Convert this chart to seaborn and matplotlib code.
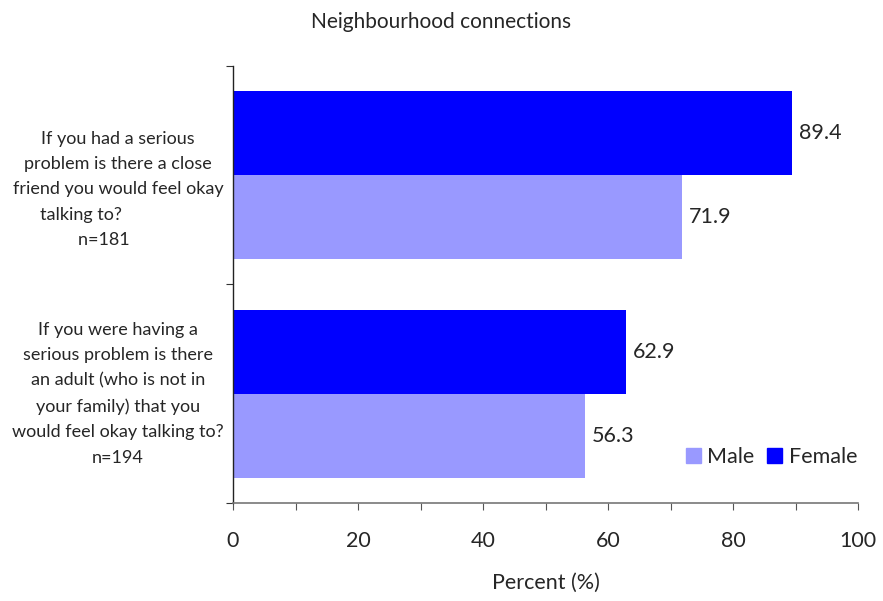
import pandas as pd
import numpy as np
import matplotlib.pyplot as plt
import seaborn as sns
from matplotlib.patches import Patch

# data
questions = [
    "If you had a serious\nproblem is there a close\nfriend you would feel okay\ntalking to?" + " " * 16 + "\nn=181" + " " * 6,
    "If you were having a\nserious problem is there\nan adult (who is not in\nyour family) that you\nwould feel okay talking to?\nn=194",
]
female = [89.4, 62.9]
male = [71.9, 56.3]
genders = ["Female", "Male"]
colors = {"Female": "#0000FF", "Male": "#9999FF"}

df = pd.DataFrame({
    "question": questions * 2,
    "gender": ["Female"] * 2 + ["Male"] * 2,
    "percent": female + male,
})

sns.set_style("white")
plt.rcParams['font.family'] = ['Lato', 'DejaVu Sans']

fig = plt.figure(figsize=(8.83, 6.01), dpi=100)
ax = fig.add_axes([0.2639, 0.1631, 0.7078, 0.7271])

sns.barplot(data=df, y="question", x="percent", hue="gender", hue_order=genders,
            palette=colors, orient="h", width=0.77, saturation=1, ax=ax,
            legend=False, errorbar=None, linewidth=0)

# value labels
for cont in ax.containers:
    ax.bar_label(cont, fmt="%.1f", padding=5, fontsize=15.5)

ax.set_xlim(0, 100)
ax.set_ylim(1.5, -0.5)
ax.set_xticks(np.arange(0, 101, 20))
ax.set_xticks(np.arange(10, 100, 20), minor=True)
ax.tick_params(axis="x", which="both", direction="out", length=5, width=0.8,
               bottom=True, labelsize=15.5, pad=15, color="#555555")
ax.set_yticks([-0.5, 0.5, 1.5])
ax.set_yticklabels([])
ax.tick_params(axis="y", which="major", direction="out", length=5, width=0.8,
               left=True, color="#333333")

for s in ["top", "right"]:
    ax.spines[s].set_visible(False)
ax.spines["left"].set_color("#222222")
ax.spines["bottom"].set_color("#777777")
ax.spines["left"].set_linewidth(1.0)
ax.spines["bottom"].set_linewidth(1.2)

# category labels (first one sits a little lower in the original)
label_shift = [0.065, 0.0]
for i, q in enumerate(questions):
    ax.text(-18.4, i + label_shift[i], q, ha="center", va="center", fontsize=13,
            linespacing=1.72, transform=ax.transData, clip_on=False)

ax.set_ylabel("")
ax.set_xlabel("Percent (%)", fontsize=15.5, labelpad=16)
fig.suptitle("Neighbourhood connections", fontsize=15, y=0.98)

handles = [Patch(color=colors["Male"], label="Male"),
           Patch(color=colors["Female"], label="Female")]
ax.legend(handles=handles, loc="center right", ncol=2, frameon=False,
          fontsize=15.5, handlelength=0.7, handleheight=0.7, handletextpad=0.3,
          columnspacing=0.6, bbox_to_anchor=(1.03, 0.105))

plt.savefig("out.png", dpi=100)
